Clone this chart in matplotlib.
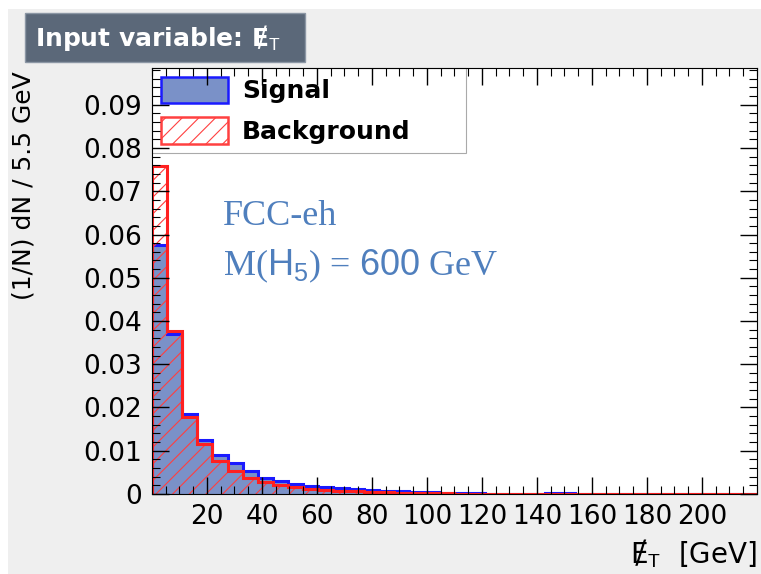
import numpy as np
import matplotlib
matplotlib.use("Agg")
import matplotlib.pyplot as plt
from matplotlib.ticker import MultipleLocator
from matplotlib.patches import Patch, Rectangle

# 40 bins of 5.5 GeV, 0 - 220 GeV
edges = np.arange(0, 220.1, 5.5)
signal = [0.0575, 0.0370, 0.0185, 0.0125, 0.0090, 0.0072, 0.0053, 0.0037,
          0.0030, 0.0024, 0.0019, 0.0016, 0.0013, 0.0011, 0.0009, 0.0007,
          0.0006, 0.0005, 0.0004, 0.0003, 0.0003, 0.0002, 0.0001, 0.0,
          0.0, 0.0, 0.0002, 0.0002, 0.0001, 0.0, 0.0, 0.0,
          0.0, 0.0, 0.0, 0.0, 0.0, 0.0, 0.0, 0.0]
background = [0.0758, 0.0378, 0.0177, 0.0115, 0.0076, 0.0053, 0.0038, 0.0027,
              0.0020, 0.0016, 0.0012, 0.0009, 0.0008, 0.0006, 0.0005, 0.0004,
              0.0003, 0.0003, 0.0002, 0.0002, 0.0001, 0.0001, 0.0, 0.0,
              0.0, 0.0, 0.0, 0.0, 0.0, 0.0, 0.0, 0.0,
              0.0, 0.0, 0.0, 0.0, 0.0, 0.0, 0.0, 0.0]

plt.rcParams['hatch.linewidth'] = 0.8
plt.rcParams['font.family'] = 'DejaVu Sans'
plt.rcParams['mathtext.fontset'] = 'custom'
plt.rcParams['mathtext.sf'] = 'Liberation Sans'
plt.rcParams['mathtext.rm'] = 'Liberation Serif'

met = '\u0246$_\\mathsf{T}$'  # missing transverse energy symbol

fig = plt.figure(figsize=(7.61, 5.74), dpi=100, facecolor='#efefef')
# white strips at the top and left edge of the slide crop
fig.add_artist(Rectangle((0, 0.984), 1, 0.016, transform=fig.transFigure,
                         facecolor='white', edgecolor='none'))
fig.add_artist(Rectangle((0, 0), 0.0105, 1, transform=fig.transFigure,
                         facecolor='white', edgecolor='none'))

ax = fig.add_axes([0.1997, 0.1394, 0.7950, 0.7421])
ax.set_axisbelow(False)  # ticks drawn on top, like ROOT

ax.stairs(signal, edges, fill=True, facecolor='#7a91c8', edgecolor='none', zorder=1.0)
ax.stairs(signal, edges, color='#1a1aff', linewidth=2.2, zorder=1.1)
ax.stairs(background, edges, fill=True, facecolor='none', edgecolor='#ff4040',
          hatch='//', linewidth=0, zorder=1.2)
ax.stairs(background, edges, color='#ff2020', linewidth=2.2, zorder=1.3)

ax.set_xlim(0, 220)
ax.set_ylim(0, 0.0985)
ax.xaxis.set_minor_locator(MultipleLocator(5))
ax.yaxis.set_minor_locator(MultipleLocator(0.002))
ax.set_xticks(np.arange(20, 201, 20))
ax.set_yticks(np.arange(0, 0.091, 0.01))
ax.set_yticklabels(['0'] + ['%.2f' % v for v in np.arange(0.01, 0.091, 0.01)])
ax.tick_params(which='both', direction='in', top=True, right=True, labelsize=19)
ax.tick_params(which='major', length=12, width=1)
ax.tick_params(which='minor', length=6, width=0.8)
ax.tick_params(axis='x', pad=7)
ax.tick_params(axis='y', pad=7)

ax.set_ylabel('(1/N) dN / 5.5 GeV', fontsize=18)
ax.yaxis.set_label_coords(-0.192, 0.725)
fig.text(0.995, 1 - 563 / 574, met + '  [GeV]', ha='right',
         va='baseline', fontsize=20)

handles = [Patch(facecolor='#7a91c8', edgecolor='#1a1aff', linewidth=1.8),
           Patch(facecolor='white', edgecolor='#ff4040', hatch='//', linewidth=1.8)]
leg = ax.legend(handles, ['Signal', 'Background'], loc='upper left',
                bbox_to_anchor=(0.0, 0.5, 0.519, 0.5), mode='expand',
                frameon=True, fancybox=False, framealpha=1,
                edgecolor='#aaaaaa', prop={'weight': 'bold', 'size': 18},
                handlelength=2.7, handleheight=1.25, borderaxespad=0.0,
                borderpad=0.35, labelspacing=0.55, handletextpad=0.55)
leg.get_frame().set_linewidth(0.8)
leg.set_zorder(1.5)

ax.text(0.117, 0.631, 'FCC-eh', transform=ax.transAxes, fontsize=26,
        family='Liberation Serif', color='#4f7fbd', va='baseline')
ax.text(0.117, 0.514, 'M($\\mathsf{H}_{\\mathsf{5}}$) = $\\mathsf{600}$ GeV',
        transform=ax.transAxes, fontsize=26, family='Liberation Serif',
        color='#4f7fbd', va='baseline')

# title box
fig.add_artist(Rectangle((25 / 761, 1 - 62 / 574), 280 / 761, 49 / 574,
                         transform=fig.transFigure, facecolor='#5b6879',
                         edgecolor='#8c97a5', linewidth=1))
fig.text(35 / 761, 1 - 38 / 574, 'Input variable: ' + met, fontsize=18,
         fontweight='bold', color='white', va='center', ha='left')

fig.savefig('out.png', dpi=100, facecolor=fig.get_facecolor())
